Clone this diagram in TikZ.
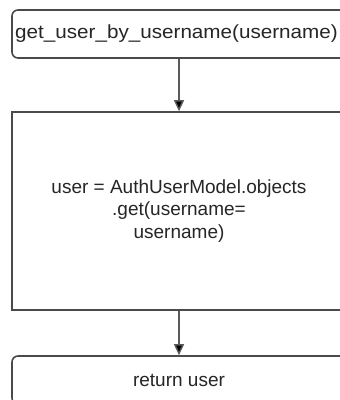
\documentclass[tikz,border=0pt]{standalone}
\usepackage{fontspec}
\setmainfont{Liberation Sans}
\usetikzlibrary{arrows.meta}
\definecolor{edgegray}{HTML}{4A4A4A}
\definecolor{linkgray}{HTML}{5A5A5A}
\definecolor{txt}{HTML}{262626}
\tikzset{
  flowbox/.style={draw=edgegray, line width=1.6pt, fill=white,
    minimum width=334pt, inner sep=0pt, text=txt,
    font=\fontsize{19}{22.5}\selectfont, align=center},
  termbox/.style={flowbox, rounded corners=6pt, minimum height=48pt},
  procbox/.style={flowbox, minimum height=198pt},
  link/.style={draw=linkgray, line width=1.4pt,
    -{Triangle[width=10pt,length=11pt,fill=black]}}
}
\begin{document}
\begin{tikzpicture}[x=1pt,y=-1pt]
  \useasboundingbox (0,0) rectangle (340,400);
  \fill[white] (0,0) rectangle (340,400);
  \clip (0,0) rectangle (340,400);

  \node[termbox] (start) at (179,34)
    {\hspace*{-5pt}\scalebox{1.087}[1]{get\_user\_by\_username(username)}};
  \node[procbox] (query) at (179,211)
    {user = AuthUserModel.objects\\.get(username=\\username)};
  \node[termbox] (ret) at (179,380) {return user};

  \draw[link] (start) -- (query);
  \draw[link] (query) -- (ret);
\end{tikzpicture}
\end{document}
